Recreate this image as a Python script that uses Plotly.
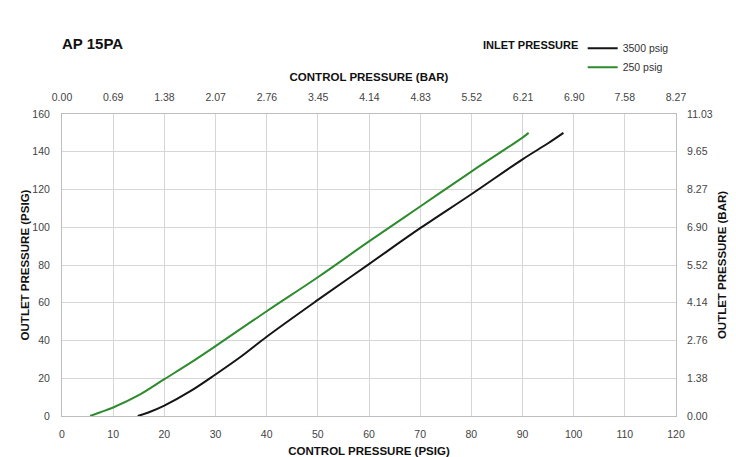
import plotly.graph_objects as go

# Control pressure (psig) vs outlet pressure (psig)
ctrl_3500 = [14.8, 17, 20, 25, 30, 35, 40, 50, 60, 70, 80, 90, 95, 98]
out_3500 = [0, 2, 5.5, 13, 22, 31.5, 42, 61.5, 80.5, 99.5, 117.5, 136, 144.5, 150]

ctrl_250 = [5.5, 7.5, 10, 15, 20, 25, 30, 40, 50, 60, 70, 80, 90, 91.2]
out_250 = [0, 2, 4.5, 11, 19.5, 28, 37, 55.5, 73.5, 92.5, 111, 129.5, 147.5, 150]

bar_x_ticks = [0.00, 0.69, 1.38, 2.07, 2.76, 3.45, 4.14, 4.83, 5.52, 6.21, 6.90, 7.58, 8.27]
bar_y_ticks = [0.00, 1.38, 2.76, 4.14, 5.52, 6.90, 8.27, 9.65, 11.03]

FONT = "Liberation Sans, Arial, sans-serif"
TICK = dict(family=FONT, size=10.5, color="#444")
TITLEF = dict(family=FONT, size=11.5, color="#111")
GRID = "#d6d6d6"

fig = go.Figure()
fig.add_trace(go.Scatter(x=ctrl_3500, y=out_3500, mode="lines", name="3500 psig",
                         line=dict(color="#151515", width=2, shape="spline")))
fig.add_trace(go.Scatter(x=ctrl_250, y=out_250, mode="lines", name="250 psig",
                         line=dict(color="#2e8b2e", width=2, shape="spline")))
# invisible trace to activate secondary (bar) axes
fig.add_trace(go.Scatter(x=[bar_x_ticks[0], bar_x_ticks[-1]], y=[bar_y_ticks[0], bar_y_ticks[-1]],
                         xaxis="x2", yaxis="y2", mode="lines", line=dict(width=0),
                         showlegend=False, hoverinfo="skip", opacity=0))

fig.update_layout(
    width=736, height=457,
    margin=dict(l=62, r=60, t=114, b=41),
    paper_bgcolor="white", plot_bgcolor="white",
    font=dict(family=FONT),
    xaxis=dict(range=[0, 120], dtick=10, tick0=0, showgrid=True, gridcolor=GRID,
               showline=True, linecolor="#bdbdbd", linewidth=1, zeroline=False,
               ticks="", tickfont=TICK, automargin=False, ticklabelstandoff=8,
               title=dict(text="<b>CONTROL PRESSURE (PSIG)</b>", font=TITLEF, standoff=8)),
    yaxis=dict(range=[0, 160], dtick=20, tick0=0, showgrid=True, gridcolor=GRID,
               showline=True, linecolor="#bdbdbd", linewidth=1, zeroline=False,
               ticks="", tickfont=TICK, automargin=False, ticklabelstandoff=9,
               title=dict(text="<b>OUTLET PRESSURE (PSIG)</b>", font=TITLEF, standoff=0)),
    xaxis2=dict(range=[0, 8.27], overlaying="x", side="top", tickvals=bar_x_ticks,
                ticktext=[f"{v:.2f}" for v in bar_x_ticks], showgrid=False,
                showline=True, linecolor="#bdbdbd", zeroline=False, ticks="", tickfont=TICK,
                automargin=False, ticklabelstandoff=8,
                title=dict(text="<b>CONTROL PRESSURE (BAR)</b>", font=TITLEF, standoff=6)),
    yaxis2=dict(range=[0, 11.03], overlaying="y", side="right", tickvals=bar_y_ticks,
                ticktext=[f"{v:.2f}" for v in bar_y_ticks], showgrid=False,
                showline=True, linecolor="#bdbdbd", zeroline=False, ticks="", tickfont=TICK,
                automargin=False, ticklabelstandoff=8,
                title=dict(text="<b>OUTLET PRESSURE (BAR)</b>", font=TITLEF, standoff=6)),
    legend=dict(x=0.848, y=1.266, xanchor="left", yanchor="top",
                font=dict(family=FONT, size=10.5, color="#333"),
                bgcolor="rgba(0,0,0,0)", itemwidth=30, tracegroupgap=0),
    showlegend=True,
)

fig.add_annotation(text="<b>AP 15PA</b>", xref="paper", yref="paper", x=-0.004, y=1.232,
                   xanchor="left", yanchor="middle", showarrow=False,
                   font=dict(family=FONT, size=15, color="#111"))
fig.add_annotation(text="<b>INLET PRESSURE</b>", xref="paper", yref="paper", x=0.682, y=1.228,
                   xanchor="left", yanchor="middle", showarrow=False,
                   font=dict(family=FONT, size=11, color="#111"))

fig.write_html("out.html", config={"displayModeBar": False},
               post_script="document.body.style.margin='0';")
